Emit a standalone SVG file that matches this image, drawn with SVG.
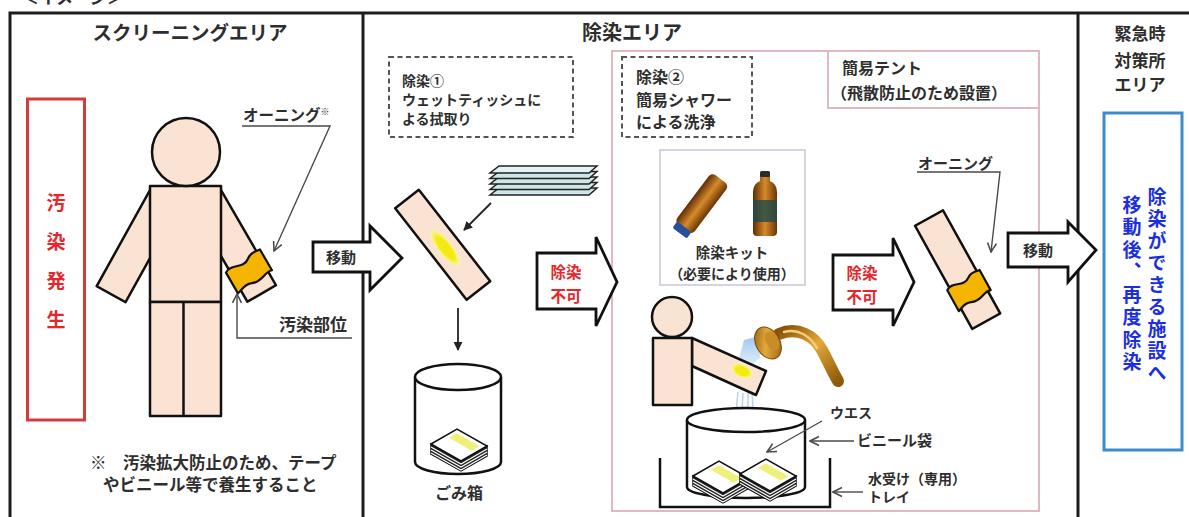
<svg xmlns="http://www.w3.org/2000/svg" width="1189" height="517" viewBox="0 0 1189 517">
<style>
  text { font-family: "Noto Sans CJK JP", "Noto Sans CJK SC", sans-serif; font-weight: 700; fill: #2e2e2e; }
  .frame { fill: none; stroke: #1c1c1c; stroke-width: 3; }
  .skin { fill: #fbe3d3; stroke: #111; stroke-width: 2.5; stroke-linejoin: round; }
  .dash { fill: none; stroke: #555; stroke-width: 2; stroke-dasharray: 5 3.5; }
  .blk { fill: #fff; stroke: #111; stroke-width: 2.8; stroke-linejoin: miter; }
  .lead { fill: none; stroke: #4a4a4a; stroke-width: 1.4; }
  .line { fill: none; stroke: #222; stroke-width: 1.8; }
  .red { fill: #e5262b; }
  .blue { fill: #1b2fdc; }
  .vert { writing-mode: vertical-rl; text-orientation: upright; }
  .awn { fill: #f5b400; stroke: #111; stroke-width: 2.2; stroke-linejoin: round; }
  .can { fill: #fff; stroke: #111; stroke-width: 2.5; }
</style>
<defs>
  <marker id="ar" viewBox="0 0 10 10" refX="9" refY="5" markerWidth="5" markerHeight="5" orient="auto">
    <path d="M0,0 L10,5 L0,10 z" fill="#222"/>
  </marker>
  <marker id="av" viewBox="0 0 10 10" refX="9" refY="5" markerWidth="8" markerHeight="8" orient="auto">
    <path d="M1,1 L9,5 L1,9" fill="none" stroke="#4a4a4a" stroke-width="1.4"/>
  </marker>
  <linearGradient id="gold" x1="0" y1="0" x2="1" y2="1">
    <stop offset="0" stop-color="#8a5208"/>
    <stop offset="0.45" stop-color="#e3a93a"/>
    <stop offset="1" stop-color="#8f5a0c"/>
  </linearGradient>
  <linearGradient id="bottle" x1="0" y1="0" x2="1" y2="0">
    <stop offset="0" stop-color="#5e2c06"/>
    <stop offset="0.5" stop-color="#d68a2a"/>
    <stop offset="1" stop-color="#6b3507"/>
  </linearGradient>
  <linearGradient id="water" x1="0" y1="0" x2="0" y2="1">
    <stop offset="0" stop-color="#8fc0ee" stop-opacity="0.9"/>
    <stop offset="1" stop-color="#cfe4f7" stop-opacity="0.6"/>
  </linearGradient>
  <radialGradient id="stain">
    <stop offset="0.6" stop-color="#f3ea12"/>
    <stop offset="1" stop-color="#fbf6a8"/>
  </radialGradient>
  <!-- stack of used wipes, top face with a stain stripe -->
  <g id="wipes">
    <path d="M-29,-2 L1,15 L27,0 L27,10 L1,25 L-29,8 Z" fill="#262626" stroke="#111" stroke-width="1.5"/>
    <polyline points="-29,1 1,18 27,3" fill="none" stroke="#fff" stroke-width="1.1"/>
    <polyline points="-29,4 1,21 27,6" fill="none" stroke="#fff" stroke-width="1.1"/>
    <polyline points="-29,7 1,24 27,9" fill="none" stroke="#fff" stroke-width="1.1"/>
    <path d="M-29,-2 L-3,-17 L27,0 L1,15 Z" fill="#fff" stroke="#111" stroke-width="1.5"/>
    <path d="M-3.3,-12.7 L19.5,0.2 L11.7,4.7 L-11.1,-8.2 Z" fill="#eef07a"/>
  </g>
</defs>

<!-- title strip, cut at the top edge -->
<text x="22" y="4" font-size="17">＜イメージ＞</text>

<!-- area frame -->
<g id="frame">
  <path class="frame" d="M10,517 V13 H1189"/>
  <line class="frame" x1="363" y1="13" x2="363" y2="517"/>
  <line class="frame" x1="1078" y1="13" x2="1078" y2="517"/>
</g>

<!-- screening area -->
<g id="screening-area">
  <text x="190" y="39.5" font-size="19.5" text-anchor="middle">スクリーニングエリア</text>
  <rect x="27.5" y="99" width="57" height="321" fill="none" stroke="#d43c3c" stroke-width="3"/>
  <text class="vert red" x="56" y="193.5" font-size="19" letter-spacing="20">汚染発生</text>
</g>

<g id="person">
  <rect class="skin" x="0" y="0" width="33" height="110" transform="translate(150,190) rotate(29)"/>
  <g transform="translate(221,190) rotate(-30)">
    <rect class="skin" x="-33" y="0" width="33" height="110"/>
    <path class="awn" d="M-37,74 C-29,68 -20,80 -11,73 C-5,68 0,71 4,71 L4,95 C-3,92 -10,101 -20,96 C-27,93 -32,97 -37,98 Z"/>
  </g>
  <rect class="skin" x="150" y="186" width="71" height="116"/>
  <rect class="skin" x="150" y="302" width="71" height="114"/>
  <line x1="183.5" y1="302" x2="183.5" y2="416" stroke="#111" stroke-width="2.5"/>
  <circle class="skin" cx="186" cy="152" r="34"/>
</g>

<g id="awning-label">
  <text x="243" y="121" font-size="15.5">オーニング<tspan font-size="9" dy="-6">※</tspan></text>
</g>
<g id="site-label">
  <text x="279" y="331" font-size="17">汚染部位</text>
</g>
<g id="note">
  <text x="90" y="469" font-size="16.5">※　汚染拡大防止のため、テープ</text>
  <text x="103" y="491" font-size="16.5">やビニール等で養生すること</text>
</g>

<!-- decontamination area -->
<g id="decon-area">
  <text x="632" y="39.5" font-size="20" text-anchor="middle">除染エリア</text>
</g>

<g id="step1">
  <rect class="dash" x="389" y="57" width="184" height="80"/>
  <text x="402" y="86" font-size="14" fill="#3a3a3a">除染①</text>
  <text x="402" y="105" font-size="14" fill="#3a3a3a">ウェットティッシュに</text>
  <text x="402" y="124" font-size="14" fill="#3a3a3a">よる拭取り</text>
</g>

<g id="tissues" stroke="#222" stroke-width="1.5" fill="#cfe6e8">
  <polygon points="499,188 597,188 589,195 490,195"/>
  <polygon points="499,182.5 597,182.5 589,189.5 490,189.5"/>
  <polygon points="499,177 597,177 589,184 490,184"/>
  <polygon points="499,171.5 597,171.5 589,178.5 490,178.5"/>
  <polygon points="499,166 597,166 589,173 490,173" fill="#e4f2f3"/>
</g>

<g id="arm-wipe" transform="translate(407,199) rotate(-38)">
  <rect class="skin" x="-15" y="0" width="30" height="116"/>
  <ellipse cx="0" cy="62" rx="7" ry="22" fill="url(#stain)"/>
</g>

<g id="trash">
  <path class="can" d="M415,377 V462 A43,12 0 0 0 501,462 V377"/>
  <ellipse class="can" cx="458" cy="377" rx="43" ry="13"/>
  <use href="#wipes" transform="translate(460,446)"/>
  <text x="459" y="499" font-size="16" text-anchor="middle">ごみ箱</text>
</g>

<g id="tent">
  <rect x="612" y="51" width="427" height="460" fill="none" stroke="#e2b8c0" stroke-width="2"/>
  <rect x="828" y="51" width="211" height="57" fill="none" stroke="#e2b8c0" stroke-width="2"/>
  <text x="842" y="74" font-size="16">簡易テント</text>
  <text x="831" y="99" font-size="16">（飛散防止のため設置）</text>
</g>

<g id="step2">
  <rect class="dash" x="622" y="57" width="130" height="80"/>
  <text x="636" y="83" font-size="16" fill="#3a3a3a">除染②</text>
  <text x="636" y="106" font-size="16" fill="#3a3a3a">簡易シャワー</text>
  <text x="636" y="128" font-size="16" fill="#3a3a3a">による洗浄</text>
</g>

<g id="kit">
  <rect x="660" y="150" width="145" height="135" fill="none" stroke="#d4d4e4" stroke-width="2"/>
  <g transform="translate(700,206) rotate(37)">
    <rect x="-11" y="-34" width="22" height="62" rx="5" fill="url(#bottle)"/>
    <rect x="-9" y="26" width="18" height="8" rx="2" fill="#2a4f9a"/>
  </g>
  <g>
    <path d="M753,192 Q753,184 760,181 V175 H770 V181 Q777,184 777,192 V232 Q777,236 773,236 H757 Q753,236 753,232 Z" fill="url(#bottle)"/>
    <rect x="760" y="171" width="10" height="6" rx="1.5" fill="#2b2b2b"/>
    <rect x="753" y="200" width="24" height="22" fill="#1f4b4a" opacity="0.8"/>
  </g>
  <text x="732" y="258" font-size="14.5" text-anchor="middle">除染キット</text>
  <text x="732" y="279" font-size="14" text-anchor="middle">（必要により使用）</text>
</g>

<g id="shower-person">
  <path d="M744,340 L760,336 L760,358 L748,368 L738,362 Z" fill="url(#water)"/>
  <g stroke="#b9d3ea" stroke-width="1.5">
    <line x1="738" y1="392" x2="736" y2="412"/>
    <line x1="743" y1="393" x2="742" y2="412"/>
    <line x1="748" y1="392" x2="748" y2="410"/>
    <line x1="752" y1="391" x2="753" y2="408"/>
  </g>
  <polygon class="skin" points="692,338 766,371 756,395 692,366"/>
  <ellipse cx="742" cy="371" rx="11" ry="6.5" transform="rotate(24 742 371)" fill="url(#stain)"/>
  <rect class="skin" x="653" y="338" width="39" height="67"/>
  <circle class="skin" cx="672" cy="317" r="20"/>
</g>

<g id="shower">
  <path d="M779,334 C798,326 814,336 822,350 C828,361 832,371 838,381" fill="none" stroke="url(#gold)" stroke-width="12" stroke-linecap="round"/>
  <path d="M784,332 C798,328 810,336 817,348" fill="none" stroke="#f3cf7a" stroke-width="2.5" stroke-linecap="round"/>
  <ellipse cx="768" cy="343" rx="12" ry="17" transform="rotate(-30 768 343)" fill="url(#gold)" stroke="#7a4a08" stroke-width="1"/>
  <ellipse cx="772" cy="341" rx="6" ry="10" transform="rotate(-30 772 341)" fill="#c88c28"/>
</g>

<g id="basin">
  <path d="M660,458 V507 H830 V458" fill="none" stroke="#111" stroke-width="2.5"/>
  <path class="can" d="M687,420 V487 A59,11 0 0 0 805,487 V420"/>
  <ellipse class="can" cx="746" cy="420" rx="59" ry="12"/>
  <use href="#wipes" transform="translate(722,478)"/>
  <use href="#wipes" transform="translate(769,476)"/>
  <text x="830" y="418" font-size="14">ウエス</text>
  <text x="857" y="446" font-size="15">ビニール袋</text>
  <text x="868" y="484" font-size="14">水受け（専用）</text>
  <text x="868" y="502" font-size="14">トレイ</text>
</g>

<g id="arm-awning" transform="translate(929,218) rotate(-29)">
  <rect class="skin" x="-16" y="0" width="32" height="118"/>
  <path class="awn" d="M-19,72 C-11,66 -3,78 6,71 C11,67 16,70 19,70 L19,93 C12,90 6,99 -4,94 C-11,91 -15,95 -19,96 Z"/>
</g>
<g id="awning-label-2">
  <text x="918" y="169" font-size="15">オーニング</text>
</g>

<!-- emergency area -->
<g id="emergency-area">
  <text x="1140" y="40" font-size="17" text-anchor="middle">緊急時</text>
  <text x="1140" y="67" font-size="17" text-anchor="middle">対策所</text>
  <text x="1140" y="91" font-size="17" text-anchor="middle">エリア</text>
  <rect x="1104" y="113" width="78" height="337" fill="none" stroke="#3c8ccc" stroke-width="3"/>
  <text class="vert blue" x="1157" y="187" font-size="19" letter-spacing="3">除染ができる施設へ</text>
  <text class="vert blue" x="1132" y="195" font-size="19" letter-spacing="3.5">移動後、再度除染</text>
</g>

<!-- connectors -->
<g id="connectors">
  <path class="lead" d="M242,126 H330 L274,251" marker-end="url(#av)"/>
  <path class="lead" d="M352,338 H237 V294" marker-end="url(#av)"/>
  <line class="line" x1="491" y1="203" x2="464" y2="230" marker-end="url(#ar)"/>
  <line class="line" x1="458" y1="308" x2="458" y2="350" marker-end="url(#ar)"/>
  <line class="lead" x1="822" y1="421" x2="767" y2="452" marker-end="url(#av)"/>
  <line class="lead" x1="854" y1="441" x2="810" y2="441" marker-end="url(#av)"/>
  <line class="lead" x1="863" y1="492" x2="833" y2="492" marker-end="url(#av)"/>
  <path class="lead" d="M917,172 H1000 L991,252" marker-end="url(#av)"/>

  <path class="blk" d="M313,242 H370 V226 L402,258 L370,290 V272 H313 Z"/>
  <text x="341" y="263" font-size="15" text-anchor="middle">移動</text>

  <path class="blk" d="M537,253 H596 V237 L617,282 L596,326 V309 H537 Z"/>
  <text class="red" x="566" y="278" font-size="15.5" text-anchor="middle">除染</text>
  <text class="red" x="566" y="302" font-size="15.5" text-anchor="middle">不可</text>

  <path class="blk" d="M833,255 H893 V238 L914,282 L893,326 V310 H833 Z"/>
  <text class="red" x="862" y="279" font-size="15.5" text-anchor="middle">除染</text>
  <text class="red" x="862" y="303" font-size="15.5" text-anchor="middle">不可</text>

  <path class="blk" d="M1008,233 H1068 V222 L1096,250 L1068,282 V267 H1008 Z"/>
  <text x="1038" y="256" font-size="15" text-anchor="middle">移動</text>
</g>
</svg>
